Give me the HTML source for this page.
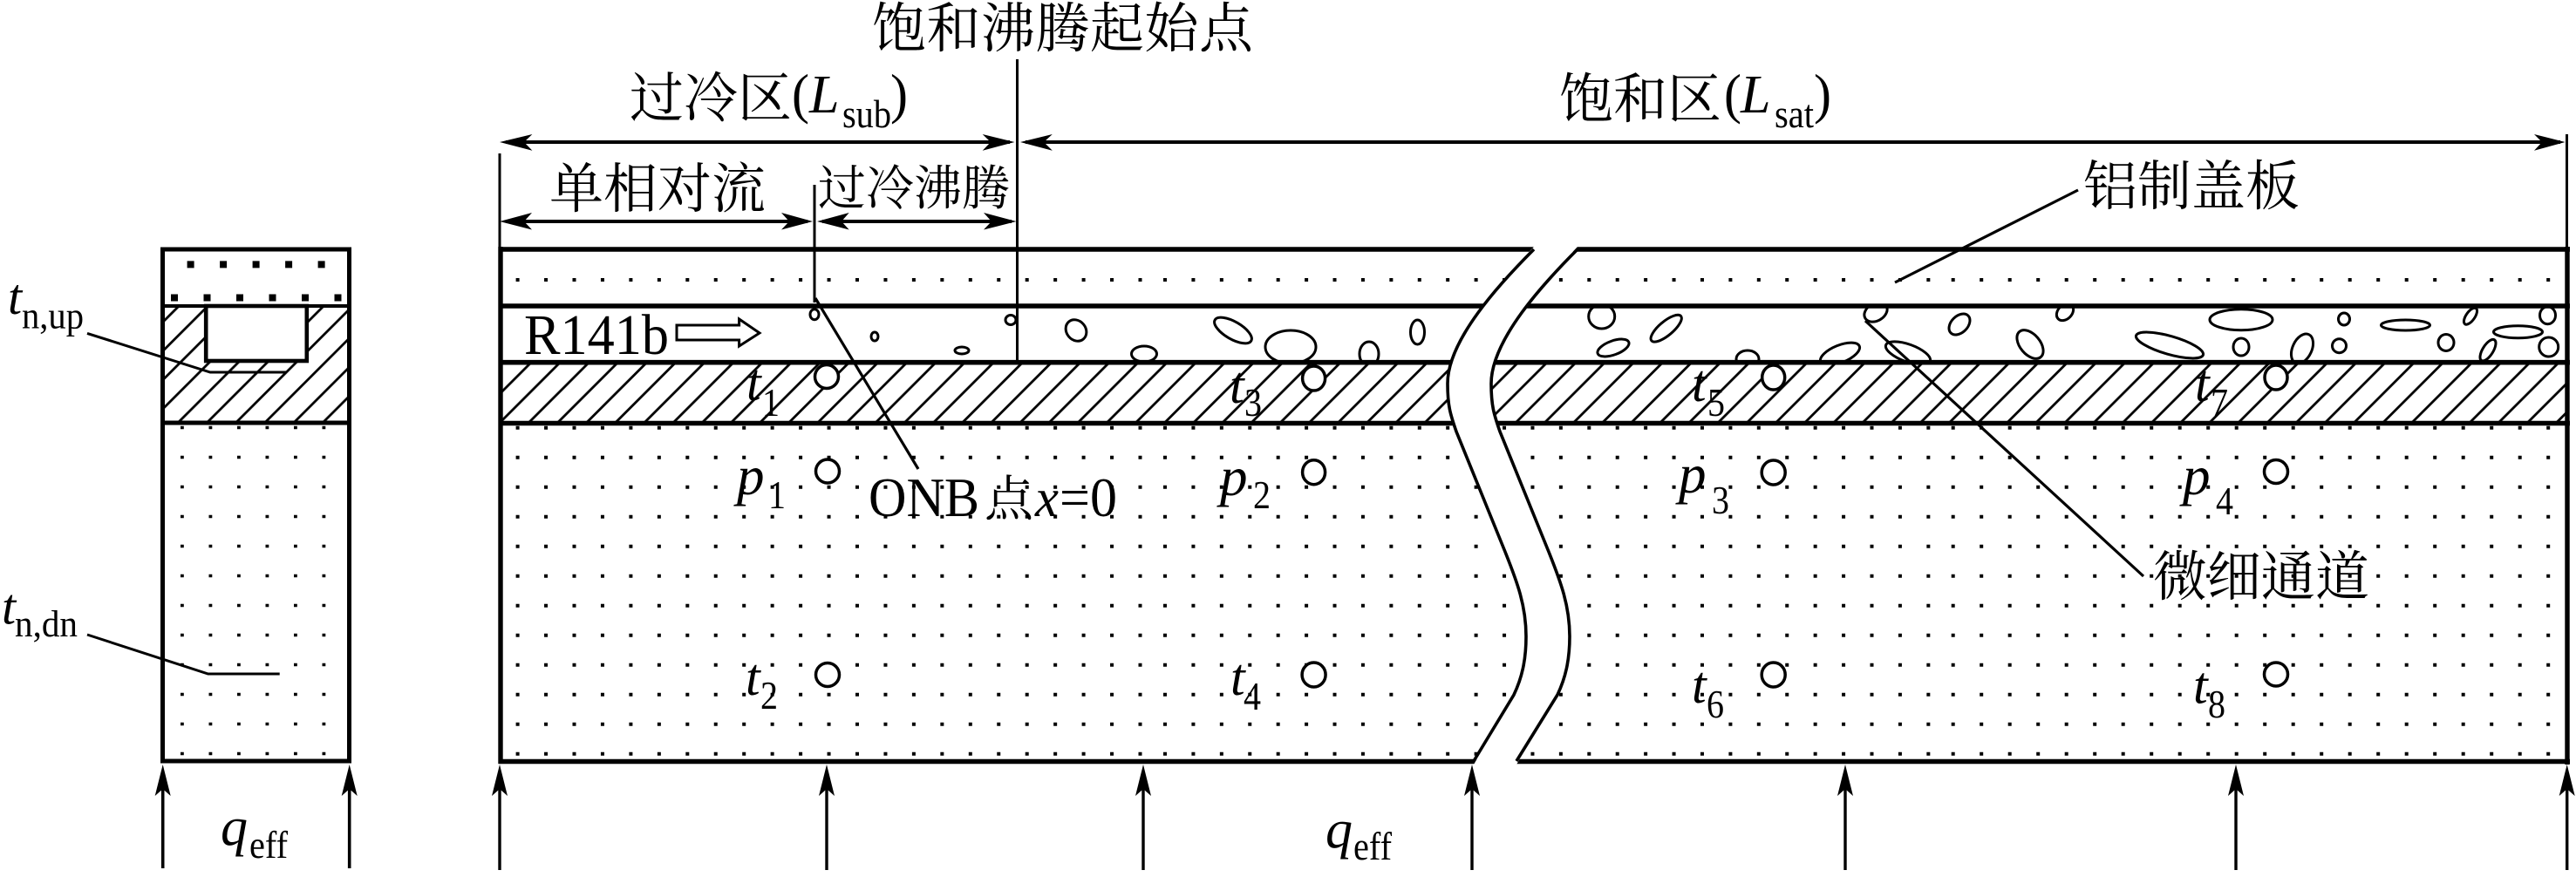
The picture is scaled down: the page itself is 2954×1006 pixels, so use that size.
<!DOCTYPE html>
<html><head><meta charset="utf-8"><style>
html,body{margin:0;padding:0;background:#fff;width:2954px;height:1006px;overflow:hidden}
svg{display:block}
text{fill:#000;font-family:"Liberation Serif","Noto Serif CJK SC",serif}
.c{font-family:"Noto Serif CJK SC","Liberation Serif",serif;font-weight:400}
.i{font-style:italic}
</style></head><body>
<svg width="2954" height="1006" viewBox="0 0 2954 1006" xmlns="http://www.w3.org/2000/svg">
<defs>
<pattern id="h1" patternUnits="userSpaceOnUse" x="30.35" y="0" width="33.15" height="33.15"><path d="M-3,36.15L36.15,-3M-3,3L3,-3M30.15,36.15L36.15,30.15" stroke="#000" stroke-width="2.8"/></pattern>
<pattern id="h2" patternUnits="userSpaceOnUse" x="1.95" y="0" width="33.15" height="33.15"><path d="M-3,36.15L36.15,-3M-3,3L3,-3M30.15,36.15L36.15,30.15" stroke="#000" stroke-width="2.8"/></pattern>
<pattern id="h3" patternUnits="userSpaceOnUse" x="25" y="0" width="33.2" height="33.2"><path d="M-3,36.2L36.2,-3M-3,3L3,-3M30.2,36.2L36.2,30.2" stroke="#000" stroke-width="2.8"/></pattern>
<clipPath id="ch"><rect x="574" y="351" width="2372" height="65"/></clipPath>
<g id="r"><path d="M591.6,0H1312" stroke="#000" stroke-width="4" stroke-dasharray="4 28.45" fill="none"/><path d="M1334,0H2215" stroke="#000" stroke-width="4" stroke-dasharray="4 28.42" fill="none"/><path d="M2237.7,0H2925" stroke="#000" stroke-width="4" stroke-dasharray="4 28.5" fill="none"/></g>
<g id="l"><path d="M207,0H375" stroke="#000" stroke-width="3.6" stroke-dasharray="3.8 28.7" fill="none"/></g>
<path id="au" d="M0,0L9,36L0,28L-9,36Z" fill="#000"/>
</defs>

<!-- LEFT PANEL -->
<rect x="186" y="351" width="215" height="134" fill="url(#h3)"/>
<use href="#l" y="490.5"/><use href="#l" y="524.5"/><use href="#l" y="558.5"/><use href="#l" y="592.5"/><use href="#l" y="626.5"/><use href="#l" y="660.5"/><use href="#l" y="694.5"/><use href="#l" y="728.5"/><use href="#l" y="762.5"/><use href="#l" y="796.5"/><use href="#l" y="830.5"/><use href="#l" y="864.5"/>
<path d="M214.6,303.4H375" stroke="#000" stroke-width="8" stroke-dasharray="8 29.5" fill="none"/>
<path d="M196,341.5H393" stroke="#000" stroke-width="8" stroke-dasharray="8 29.5" fill="none"/>
<rect x="236.2" y="351" width="115.6" height="63" fill="#fff" stroke="#000" stroke-width="4.6"/>
<path d="M186,351H401" stroke="#000" stroke-width="4"/>
<path d="M186,485H401" stroke="#000" stroke-width="5"/>
<rect x="186.5" y="286" width="214" height="587" fill="none" stroke="#000" stroke-width="5"/>
<path d="M100,382.4L241,427H328.6" fill="none" stroke="#000" stroke-width="3"/>
<path d="M100,728L238.6,773H320.7" fill="none" stroke="#000" stroke-width="3"/>
<path d="M186.7,996V900M400.7,996V900" stroke="#000" stroke-width="3.6"/>
<use href="#au" x="186.7" y="877"/><use href="#au" x="400.7" y="877"/>
<text class="i" x="9" y="360" font-size="58">t</text><text x="25" y="376.6" font-size="43" textLength="71" lengthAdjust="spacingAndGlyphs">n,up</text>
<text class="i" x="2" y="715.6" font-size="58">t</text><text x="17" y="730" font-size="43" textLength="72" lengthAdjust="spacingAndGlyphs">n,dn</text>
<text class="i" x="253" y="969" font-size="62">q</text><text x="286" y="984" font-size="44" textLength="44" lengthAdjust="spacingAndGlyphs">eff</text>

<!-- MAIN HATCH -->
<rect x="574" y="416" width="1130" height="69" fill="url(#h1)"/>
<rect x="1704" y="416" width="1242" height="69" fill="url(#h2)"/>

<!-- DOTS -->
<use href="#r" y="321"/>
<use href="#r" y="490.7"/><use href="#r" y="524.7"/><use href="#r" y="558.7"/><use href="#r" y="592.7"/><use href="#r" y="626.7"/><use href="#r" y="660.7"/><use href="#r" y="694.8"/><use href="#r" y="728.8"/><use href="#r" y="762.8"/><use href="#r" y="796.8"/><use href="#r" y="830.8"/><use href="#r" y="864.8"/>

<!-- BUBBLES -->
<g clip-path="url(#ch)" fill="none" stroke="#000" stroke-width="3">
<ellipse cx="934" cy="360.7" rx="5" ry="6"/>
<ellipse cx="1003" cy="386" rx="4" ry="5"/>
<ellipse cx="1103" cy="402" rx="8" ry="4"/>
<ellipse cx="1159" cy="367" rx="6" ry="5.5"/>
<ellipse cx="1234" cy="379" rx="13" ry="11" transform="rotate(50 1234 379)"/>
<ellipse cx="1312" cy="406" rx="14.5" ry="9"/>
<ellipse cx="1414" cy="379" rx="24" ry="10" transform="rotate(30 1414 379)"/>
<ellipse cx="1480" cy="398" rx="29" ry="19"/>
<ellipse cx="1570" cy="406" rx="11" ry="14"/>
<ellipse cx="1625.5" cy="381" rx="8" ry="14"/>
<ellipse cx="1836.7" cy="363" rx="15" ry="14"/>
<ellipse cx="1910.7" cy="376.7" rx="22" ry="8" transform="rotate(-40 1910.7 376.7)"/>
<ellipse cx="1850" cy="399" rx="19" ry="8" transform="rotate(-20 1850 399)"/>
<ellipse cx="2004" cy="412" rx="13" ry="10"/>
<ellipse cx="2110" cy="406" rx="24" ry="10" transform="rotate(-22 2110 406)"/>
<ellipse cx="2151" cy="358" rx="14" ry="10" transform="rotate(-30 2151 358)"/>
<ellipse cx="2247" cy="372" rx="14" ry="9.5" transform="rotate(-45 2247 372)"/>
<ellipse cx="2368" cy="358" rx="11" ry="8" transform="rotate(-45 2368 358)"/>
<ellipse cx="2188" cy="405" rx="27" ry="10" transform="rotate(20 2188 405)"/>
<ellipse cx="2328" cy="395" rx="19" ry="11.500" transform="rotate(50 2328 395)"/>
<ellipse cx="2488" cy="396" rx="40" ry="10.500" transform="rotate(16 2488 396)"/>
<ellipse cx="2570" cy="366.7" rx="36" ry="12"/>
<ellipse cx="2570" cy="398" rx="9" ry="10"/>
<ellipse cx="2640" cy="400" rx="11" ry="18" transform="rotate(25 2640 400)"/>
<ellipse cx="2682.5" cy="396.7" rx="8" ry="8"/>
<ellipse cx="2688" cy="366" rx="6.5" ry="7"/>
<ellipse cx="2758.5" cy="373" rx="28" ry="6"/>
<ellipse cx="2833" cy="362.7" rx="11" ry="5" transform="rotate(-55 2833 362.7)"/>
<ellipse cx="2805" cy="393" rx="9" ry="9.5"/>
<ellipse cx="2887.5" cy="380.7" rx="28" ry="7"/>
<ellipse cx="2853" cy="401.7" rx="14" ry="6" transform="rotate(-58 2853 401.7)"/>
<ellipse cx="2921.5" cy="361.7" rx="9" ry="10"/>
<ellipse cx="2922.7" cy="398" rx="11" ry="11"/>
</g>

<!-- THERMOCOUPLE CIRCLES -->
<g fill="#fff" stroke="#000" stroke-width="3.5">
<ellipse cx="948" cy="432" rx="13.5" ry="13.5"/><ellipse cx="949" cy="540.5" rx="13.5" ry="13.5"/><ellipse cx="949" cy="774" rx="13.5" ry="13.5"/>
<ellipse cx="1506.6" cy="434" rx="13" ry="14"/><ellipse cx="1506.6" cy="541.7" rx="13" ry="14"/><ellipse cx="1506.6" cy="774" rx="13.5" ry="14"/>
<ellipse cx="2033.7" cy="433" rx="13" ry="14"/><ellipse cx="2033.7" cy="542" rx="13.5" ry="14"/><ellipse cx="2033.7" cy="774" rx="13.5" ry="14"/>
<ellipse cx="2610" cy="433" rx="13" ry="14"/><ellipse cx="2610" cy="541" rx="13.5" ry="13.5"/><ellipse cx="2610" cy="773.5" rx="13.5" ry="13.5"/>
</g>

<!-- HORIZONTALS AND FRAME -->
<path d="M571.5,286H2947M574,351H2947M574,415.7H2947M574,485.5H2947M571.5,873.5H2947" stroke="#000" stroke-width="5.6" fill="none"/>
<path d="M574,283V876M2944,283V877" stroke="#000" stroke-width="5.4" fill="none"/>

<!-- BREAK BAND -->
<path d="M1759,283C1720,325 1660,390 1660,440C1660,465 1663,475 1670,495L1726,633C1740,668 1750,695 1750,730C1750,758 1745,778 1736,797L1690,877H1739L1786,797C1795,778 1800,758 1800,730C1800,695 1790,668 1776,633L1720,495C1713,475 1710,465 1710,440C1710,390 1770,325 1809,283Z" fill="#fff"/>
<path d="M1759,286C1720,325 1660,390 1660,440C1660,465 1663,475 1670,495L1726,633C1740,668 1750,695 1750,730C1750,758 1745,778 1736,797L1690,873" fill="none" stroke="#000" stroke-width="3.6"/>
<path d="M1809,286C1770,325 1710,390 1710,440C1710,465 1713,475 1720,495L1776,633C1790,668 1800,695 1800,730C1800,758 1795,778 1786,797L1739,873" fill="none" stroke="#000" stroke-width="3.6"/>

<!-- VERTICAL REFS -->
<path d="M1166.5,68V413M934,212V347M573,176V283M2943.5,154V284" stroke="#000" stroke-width="3" fill="none"/>

<!-- DIMENSION ARROWS -->
<path d="M580,163H1158M1176,163H2936M580,254H926M943,254H1160" stroke="#000" stroke-width="4" fill="none"/>
<path d="M573,163L610.4,154L601,163L610.4,172.700ZM1163.500,163L1126.700,154L1136,163L1126.700,172.700ZM1170,163L1206.800,154L1197,163L1206.800,172.700ZM2941.600,163L2906,154L2915,163L2906,172.700Z" fill="#000"/>
<path d="M573,254L610,244L601,254L610,263.500ZM932,254L896,244L905,254L896,263.500ZM937,254L973.700,244L965,254L973.700,263.500ZM1165.500,254L1128,244L1137,254L1128,263.500Z" fill="#000"/>

<!-- LEADERS -->
<path d="M935,342L1053,538M2139,368L2458,661M2383,218L2173,324" stroke="#000" stroke-width="3.2" fill="none"/>

<!-- HOLLOW ARROW -->
<polygon points="776,373 847.600,373 847.600,366 871,382 847.600,397 847.600,390 776,390" fill="#fff" stroke="#000" stroke-width="3"/>

<!-- BOTTOM ARROWS -->
<path d="M573,998V905M948,998V905M1311,998V905M1688,998V905M2116,998V905M2564,998V905M2943.700,998V905" stroke="#000" stroke-width="3.4" fill="none"/>
<use href="#au" x="573" y="877"/><use href="#au" x="948" y="877"/><use href="#au" x="1311" y="877"/><use href="#au" x="1688" y="877"/><use href="#au" x="2116" y="877"/><use href="#au" x="2564" y="877"/><use href="#au" x="2943.700" y="877"/>

<!-- CJK LABELS -->
<text class="c" x="1000" y="54" font-size="62" textLength="437" lengthAdjust="spacing">饱和沸腾起始点</text>
<text class="c" x="722" y="134" font-size="62">过冷区</text>
<text x="908" y="129" font-size="64" textLength="20" lengthAdjust="spacingAndGlyphs">(</text><text class="i" x="928" y="129" font-size="62">L</text><text x="966" y="146" font-size="46" textLength="56" lengthAdjust="spacingAndGlyphs">sub</text><text x="1021" y="129" font-size="64" textLength="20" lengthAdjust="spacingAndGlyphs">)</text>
<text class="c" x="1788" y="135" font-size="62">饱和区</text>
<text x="1977" y="129" font-size="64" textLength="20" lengthAdjust="spacingAndGlyphs">(</text><text class="i" x="1996" y="129" font-size="62">L</text><text x="2035" y="146" font-size="46" textLength="45" lengthAdjust="spacingAndGlyphs">sat</text><text x="2080" y="129" font-size="64" textLength="20" lengthAdjust="spacingAndGlyphs">)</text>
<text class="c" x="630" y="238" font-size="62">单相对流</text>
<text class="c" x="938" y="235" font-size="55">过冷沸腾</text>
<text class="c" x="2389" y="235" font-size="62">铝制盖板</text>
<text class="c" x="2469" y="683" font-size="62">微细通道</text>
<text x="601" y="406" font-size="66" textLength="166" lengthAdjust="spacingAndGlyphs">R141b</text>
<text x="996" y="592" font-size="64" textLength="127" lengthAdjust="spacingAndGlyphs">ONB</text><text class="c" x="1129" y="592" font-size="56">点</text><text class="i" x="1187" y="592" font-size="62" textLength="27" lengthAdjust="spacingAndGlyphs">x</text><text x="1215" y="592" font-size="64" textLength="66" lengthAdjust="spacingAndGlyphs">=0</text>

<!-- SYMBOLS -->
<g font-size="60">
<text class="i" x="856" y="459">t</text><text class="i" x="1410" y="462">t</text><text class="i" x="1940" y="460">t</text><text class="i" x="2517" y="460">t</text>
<text class="i" x="855" y="797">t</text><text class="i" x="1411" y="797">t</text><text class="i" x="1940" y="806">t</text><text class="i" x="2515" y="806.700">t</text>
<text class="i" x="845" y="567" font-size="63">p</text><text class="i" x="1399" y="568" font-size="63">p</text><text class="i" x="1925" y="565" font-size="63">p</text><text class="i" x="2503" y="567" font-size="63">p</text>
</g>
<g font-size="46">
<text x="874" y="477" textLength="20" lengthAdjust="spacingAndGlyphs">1</text><text x="1427" y="477" textLength="20" lengthAdjust="spacingAndGlyphs">3</text><text x="1958" y="477" textLength="20" lengthAdjust="spacingAndGlyphs">5</text><text x="2535" y="477" textLength="20" lengthAdjust="spacingAndGlyphs">7</text>
<text x="872" y="813" textLength="20" lengthAdjust="spacingAndGlyphs">2</text><text x="1426" y="814" textLength="20" lengthAdjust="spacingAndGlyphs">4</text><text x="1957" y="823" textLength="20" lengthAdjust="spacingAndGlyphs">6</text><text x="2532" y="823" textLength="20" lengthAdjust="spacingAndGlyphs">8</text>
<text x="881" y="583" textLength="20" lengthAdjust="spacingAndGlyphs">1</text><text x="1437" y="583" textLength="20" lengthAdjust="spacingAndGlyphs">2</text><text x="1963" y="589" textLength="20" lengthAdjust="spacingAndGlyphs">3</text><text x="2541" y="590" textLength="20" lengthAdjust="spacingAndGlyphs">4</text>
</g>
<text class="i" x="1520" y="972" font-size="62">q</text><text x="1552" y="986" font-size="46" textLength="44" lengthAdjust="spacingAndGlyphs">eff</text>
</svg>
</body></html>
